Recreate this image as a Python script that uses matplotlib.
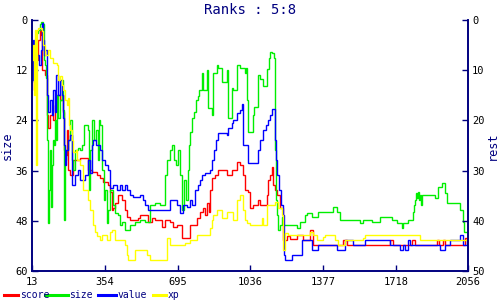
import matplotlib
matplotlib.use("Agg")
import matplotlib.pyplot as plt
from matplotlib.lines import Line2D

# ---- data: (step, rank on the "size" scale), drawn as steps ----
score_pts = [(13, 6.0), (18, 12.0), (22, 16.7), (27, 9.6), (41, 4.8), (50, 2.4), (55, 3.6), (60, 12.0), (74, 13.1),
             (83, 22.7), (88, 25.8), (97, 22.7), (111, 23.9), (121, 20.3), (130, 17.9), (144, 19.1), (154, 17.9),
             (158, 22.0), (163, 31.1), (168, 32.3), (177, 26.3), (182, 35.9), (191, 37.0), (205, 33.5), (238, 33.0),
             (275, 35.9), (294, 36.3), (318, 37.0), (332, 37.8), (346, 38.7), (369, 39.4), (379, 41.1), (388, 45.4),
             (393, 44.9), (402, 43.7), (416, 41.8), (435, 43.0), (449, 45.4), (458, 47.1), (472, 47.8), (510, 47.3),
             (519, 46.6), (557, 48.3), (575, 47.3), (589, 47.8), (622, 49.5), (636, 47.8), (660, 48.3), (674, 49.5),
             (692, 49.0), (716, 52.1), (753, 49.0), (786, 47.3), (800, 45.9), (814, 44.9), (824, 46.6), (833, 43.7),
             (842, 45.9), (847, 40.6), (856, 37.8), (871, 37.0), (885, 35.9), (927, 37.0), (950, 35.9), (974, 33.9),
             (988, 34.7), (1002, 37.0), (1011, 40.6), (1025, 41.1), (1035, 44.9), (1049, 44.2), (1072, 43.0),
             (1081, 44.2), (1114, 41.8), (1119, 38.2), (1128, 37.0), (1138, 35.1), (1142, 39.4), (1152, 40.6),
             (1161, 41.8), (1175, 44.9), (1189, 52.6), (1208, 51.6), (1222, 52.3), (1255, 51.4), (1283, 52.6),
             (1316, 50.2), (1330, 53.8), (1471, 52.6), (1490, 53.8), (1691, 52.6), (1705, 53.8), (1794, 52.6),
             (1808, 53.8), (1911, 52.6), (1921, 53.8), (1939, 52.6), (1948, 53.8), (2042, 52.1), (2051, 52.6),
             (2056, 52.6)]

size_pts = [(13, 12.0), (18, 9.6), (27, 4.8), (32, 3.1), (41, 2.4), (50, 1.0), (55, 0.5), (65, 1.0), (69, 9.6),
            (74, 10.8), (79, 13.9), (83, 28.7), (88, 48.5), (93, 40.6), (97, 31.1), (102, 44.7), (107, 34.7),
            (111, 28.7), (116, 29.9), (121, 23.9), (125, 28.7), (130, 17.9), (135, 23.4), (144, 19.1), (154, 14.3),
            (158, 21.5), (163, 47.8), (168, 33.5), (172, 31.1), (182, 28.7), (191, 23.9), (200, 33.5), (205, 35.9),
            (214, 31.1), (229, 30.6), (238, 31.1), (247, 29.9), (257, 25.1), (275, 26.3), (280, 40.6), (285, 31.1),
            (294, 23.9), (303, 28.7), (313, 26.3), (322, 33.5), (327, 23.9), (332, 25.1), (341, 35.9), (350, 43.0),
            (355, 40.6), (364, 48.5), (369, 45.4), (379, 40.6), (393, 44.2), (402, 46.1), (416, 46.6), (425, 49.0),
            (435, 48.3), (449, 50.2), (472, 49.0), (496, 48.3), (519, 47.8), (543, 48.3), (566, 44.2), (589, 43.7),
            (612, 44.2), (636, 37.0), (646, 33.5), (660, 31.1), (669, 29.9), (679, 33.5), (688, 34.7), (697, 31.1),
            (707, 37.0), (716, 45.4), (725, 38.2), (735, 43.0), (744, 35.9), (749, 29.9), (753, 26.8), (763, 23.4),
            (772, 22.0), (781, 19.1), (791, 18.2), (796, 16.7), (810, 12.7), (814, 16.7), (833, 12.0), (838, 21.0),
            (856, 22.7), (861, 12.7), (880, 10.8), (885, 11.5), (903, 14.8), (927, 12.0), (931, 23.4), (950, 16.3),
            (955, 16.7), (974, 10.8), (988, 11.5), (1011, 12.7), (1016, 11.5), (1021, 19.1), (1025, 26.8),
            (1049, 22.7), (1053, 20.8), (1072, 13.1), (1081, 14.1), (1095, 15.8), (1114, 11.7), (1124, 9.1),
            (1128, 7.6), (1138, 7.9), (1147, 9.1), (1152, 31.1), (1156, 43.0), (1161, 46.6), (1166, 50.2),
            (1175, 49.0), (1185, 47.1), (1189, 49.0), (1255, 49.7), (1269, 48.3), (1292, 46.6), (1302, 46.1),
            (1325, 47.1), (1353, 45.9), (1424, 44.7), (1443, 45.9), (1457, 47.8), (1550, 48.5), (1564, 47.8),
            (1606, 48.3), (1644, 47.1), (1700, 47.8), (1724, 48.5), (1747, 49.7), (1752, 48.5), (1775, 47.8),
            (1798, 45.9), (1803, 44.2), (1808, 43.0), (1812, 41.3), (1817, 42.5), (1822, 41.1), (1826, 43.0),
            (1831, 41.8), (1836, 44.2), (1841, 41.8), (1902, 42.5), (1916, 39.9), (1935, 39.0), (1948, 41.3),
            (1958, 43.7), (2019, 45.4), (2033, 48.3), (2037, 50.7), (2056, 50.7)]

value_pts = [(13, 14.3), (18, 4.8), (22, 14.8), (27, 9.6), (36, 8.4), (46, 10.8), (55, 7.2), (60, 0.7), (65, 4.8),
             (69, 8.4), (74, 7.2), (83, 17.9), (88, 22.0), (97, 19.1), (107, 22.7), (111, 16.7), (121, 22.0),
             (125, 13.1), (135, 17.9), (144, 14.3), (154, 17.9), (158, 23.4), (163, 29.9), (168, 34.7), (172, 31.1),
             (182, 28.7), (191, 27.5), (200, 39.4), (214, 37.0), (229, 35.9), (238, 38.2), (261, 37.0), (275, 33.5),
             (285, 36.6), (294, 29.9), (299, 28.7), (313, 29.9), (332, 31.1), (341, 33.5), (355, 34.7), (369, 35.9),
             (379, 40.1), (393, 39.4), (411, 40.6), (425, 39.4), (435, 40.6), (449, 39.4), (458, 40.6), (472, 41.8),
             (486, 42.3), (519, 41.8), (533, 43.0), (543, 44.2), (557, 45.4), (660, 43.0), (692, 44.2), (707, 46.1),
             (721, 44.2), (739, 44.7), (753, 43.0), (763, 44.2), (777, 40.6), (791, 39.4), (800, 38.2), (810, 37.0),
             (824, 36.6), (847, 35.9), (856, 33.5), (866, 31.1), (875, 28.7), (885, 27.0), (927, 27.5), (931, 25.8),
             (950, 24.6), (955, 23.9), (974, 22.2), (988, 21.5), (997, 20.1), (1002, 29.9), (1025, 34.2),
             (1072, 31.1), (1081, 28.7), (1095, 26.3), (1109, 25.1), (1119, 23.9), (1128, 22.7), (1138, 21.3),
             (1152, 28.7), (1156, 33.5), (1161, 37.0), (1171, 40.6), (1180, 44.2), (1189, 46.6), (1194, 56.2),
             (1199, 57.4), (1231, 56.2), (1278, 52.6), (1325, 55.0), (1353, 53.8), (1443, 55.0), (1480, 52.6),
             (1517, 53.8), (1574, 52.6), (1691, 53.8), (1737, 55.0), (1752, 53.8), (1761, 55.0), (1775, 52.6),
             (1784, 53.8), (1925, 55.0), (1948, 53.8), (1972, 52.6), (2019, 51.4), (2033, 53.8), (2051, 52.6),
             (2056, 52.6)]

xp_pts = [(13, 9.6), (18, 6.0), (22, 17.9), (27, 2.4), (32, 34.7), (36, 2.4), (41, 1.9), (60, 2.6), (65, 6.0),
          (74, 8.4), (88, 7.2), (97, 9.1), (111, 10.3), (130, 10.8), (135, 14.3), (144, 13.4), (154, 15.5),
          (158, 16.7), (168, 19.1), (177, 20.3), (182, 18.6), (186, 25.1), (191, 26.3), (200, 28.7), (205, 31.5),
          (219, 31.1), (224, 33.5), (238, 34.7), (252, 40.6), (275, 43.0), (285, 45.4), (299, 49.0), (308, 50.7),
          (318, 51.6), (332, 52.6), (341, 51.4), (364, 52.6), (379, 50.7), (388, 50.2), (402, 52.6), (449, 53.8),
          (458, 56.2), (463, 57.4), (496, 55.0), (552, 56.2), (566, 57.4), (646, 52.1), (660, 53.8), (730, 53.3),
          (753, 52.6), (786, 51.4), (847, 49.7), (856, 47.8), (861, 46.6), (880, 45.4), (903, 47.3), (927, 45.9),
          (955, 47.8), (974, 43.0), (988, 41.8), (1002, 45.4), (1011, 47.8), (1021, 48.5), (1035, 49.0),
          (1091, 47.3), (1095, 49.0), (1114, 44.2), (1152, 43.5), (1166, 44.9), (1185, 46.6), (1189, 55.0),
          (1199, 50.9), (1213, 51.4), (1316, 50.7), (1330, 51.4), (1349, 52.6), (1377, 51.9), (1386, 51.4),
          (1433, 52.6), (1447, 53.8), (1480, 52.6), (1564, 52.1), (1574, 51.4), (1831, 52.6), (2056, 52.6)]

x_ticks = [13, 354, 695, 1036, 1377, 1718, 2056]
left_ticks = [0, 12, 24, 36, 48, 60]
right_ticks = [0, 10, 20, 30, 40, 50]
series_names = ["score", "size", "value", "xp"]
series_colors = ["#ff0000", "#00ee00", "#0000ff", "#ffff00"]

NAVY = "#000080"
MONO = "DejaVu Sans Mono"

fig = plt.figure(figsize=(5, 3), dpi=100)
ax = fig.add_axes([0.064, 0.0967, 0.872, 0.8366])

for pts, c in zip([score_pts, size_pts, value_pts, xp_pts], series_colors):
    xs = [p[0] for p in pts]
    ys = [p[1] for p in pts]
    ax.plot(xs, ys, drawstyle="steps-post", color=c, linewidth=1.0, solid_joinstyle="miter")

ax.set_xlim(x_ticks[0], x_ticks[-1])
ax.set_ylim(60, 0)
ax.set_xticks(x_ticks)
ax.set_yticks(left_ticks)
ax.set_xticklabels([str(v) for v in x_ticks], fontsize=7.5, family=MONO)
ax.set_yticklabels([str(v) for v in left_ticks], fontsize=7.5, family=MONO)
ax.tick_params(direction="in", length=4, color=NAVY, width=1, pad=3)
ax.tick_params(axis="x", pad=4.5)
ax.spines["top"].set_visible(False)
for s in ["left", "right", "bottom"]:
    ax.spines[s].set_color(NAVY)
    ax.spines[s].set_linewidth(1.2)
ax.set_ylabel("size", family=MONO, fontsize=8.5, color=NAVY, labelpad=1)

ax2 = ax.twinx()
ax2.set_ylim(50, 0)
ax2.set_yticks(right_ticks)
ax2.set_yticklabels([str(v) for v in right_ticks], fontsize=7.5, family=MONO)
ax2.tick_params(direction="in", length=4, color=NAVY, width=1, pad=3)
ax2.spines["top"].set_visible(False)
for s in ["left", "right", "bottom"]:
    ax2.spines[s].set_color(NAVY)
    ax2.spines[s].set_linewidth(1.2)
ax2.set_ylabel("rest", family=MONO, fontsize=8.5, color=NAVY, labelpad=1)

fig.text(0.5, 0.965, "Ranks : 5:8", ha="center", va="center", family=MONO, fontsize=10, color=NAVY)

# legend along the bottom
leg_line_x = [(0.008, 0.036), (0.09, 0.135), (0.195, 0.232), (0.305, 0.332)]
leg_text_x = [0.040, 0.138, 0.236, 0.336]
for (x0, x1), tx, name, c in zip(leg_line_x, leg_text_x, series_names, series_colors):
    fig.add_artist(Line2D([x0, x1], [0.018, 0.018], color=c, linewidth=2.2, transform=fig.transFigure))
    fig.text(tx, 0.018, name, va="center", ha="left", family=MONO, fontsize=7, color=NAVY)

fig.savefig("out.png", dpi=100)
